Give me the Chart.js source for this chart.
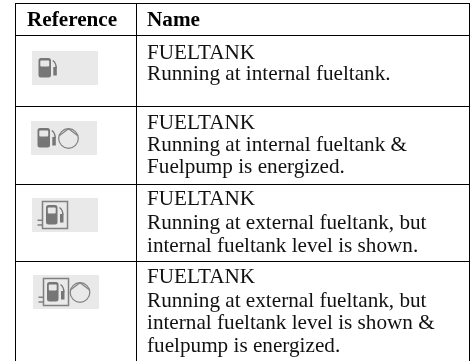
<!DOCTYPE html>
<html><head><meta charset="utf-8">
<style>html,body{margin:0;padding:0;background:#fff}#w{width:471px;height:361px;position:relative}</style>
<script src="https://cdn.jsdelivr.net/npm/chart.js@4"></script>
</head><body><div id="w"><canvas id="c" width="471" height="361"></canvas></div>
<script>
// table content
const headers = ["Reference", "Name"];
const rowNames = [
  ["FUELTANK", "Running at internal fueltank."],
  ["FUELTANK", "Running at internal fueltank &", "Fuelpump is energized."],
  ["FUELTANK", "Running at external fueltank, but", "internal fueltank level is shown."],
  ["FUELTANK", "Running at external fueltank, but", "internal fueltank level is shown &", "fuelpump is energized."]
];
const rowExternal = [false, false, true, true];
const rowPump = [false, true, false, true];

// layout, in the scale units (1 unit = 1 px)
const colRules = [15.5, 136.5, 469.5];
const rowRules = [3.5, 35.5, 106.5, 184.5, 261.5];
const headerBaseline = 26;
const baselines = [[58.5, 80], [128.5, 151, 173], [205, 228.5, 251.5], [283, 306.5, 329, 352]];
const iconOrigins = [[32, 51], [31, 121], [32, 198], [33, 275]];
const textX = [27, 147];

const ruleSets = [
  ...colRules.map(x => [{x, y: 3}, {x, y: 361}]),
  ...rowRules.map(y => [{x: 15, y}, {x: 470, y}])
];

const tablePlugin = {
  id: 'tablePlugin',
  beforeDatasetsDraw(chart) {
    const {ctx, scales: {x, y}} = chart;
    const G = '#767676';
    const px = v => x.getPixelForValue(v), py = v => y.getPixelForValue(v);
    const rr = (a, b, w, h, r) => { ctx.beginPath(); ctx.roundRect(a, b, w, h, r); };
    iconOrigins.forEach(([ox, oy], i) => {
      const X = px(ox), Y = py(oy);
      ctx.fillStyle = '#e9e9e9';
      ctx.fillRect(X, Y, 66, 34);
      const ext = rowExternal[i];
      const bx = ext ? 14 : 6.5, bw = ext ? 11.5 : 12.5;
      ctx.fillStyle = G;
      rr(X + bx, Y + 7, bw, 19.5, 2.5); ctx.fill();
      ctx.fillStyle = '#e8e8e8';
      rr(X + bx + 1.8, Y + 9.5, bw - 3.6, 6, 1); ctx.fill();
      // nozzle
      const nx = ext ? 28 : 21.3;
      ctx.fillStyle = G;
      ctx.fillRect(X + nx, Y + 16, 3.5, 8.5);
      ctx.strokeStyle = G; ctx.lineWidth = 1.4;
      ctx.beginPath(); ctx.moveTo(X + nx - 0.5, Y + 9.5); ctx.quadraticCurveTo(X + nx + 3, Y + 12, X + nx + 2.8, Y + 17); ctx.stroke();
      if (ext) {
        ctx.lineWidth = 1.5; ctx.strokeStyle = '#808080';
        ctx.strokeRect(X + 10.5, Y + 3.5, 25, 27);
        ctx.beginPath();
        ctx.moveTo(X + 5.5, Y + 22.3); ctx.lineTo(X + 10.5, Y + 22.3);
        ctx.moveTo(X + 5.5, Y + 27); ctx.lineTo(X + 10.5, Y + 27);
        ctx.stroke();
      }
      if (rowPump[i]) {
        const cx = X + (ext ? 47 : 37.5), cy = Y + 17.5;
        ctx.lineWidth = 1.2; ctx.strokeStyle = '#808080';
        ctx.beginPath(); ctx.arc(cx, cy, 9.8, 0, Math.PI * 2); ctx.stroke();
        ctx.beginPath(); ctx.moveTo(cx - 9, cy - 3); ctx.lineTo(cx, cy - 9.8); ctx.lineTo(cx + 9, cy - 3); ctx.stroke();
      }
    });
  },
  afterDatasetsDraw(chart) {
    const {ctx, scales: {x, y}} = chart;
    ctx.save();
    ctx.fillStyle = '#000';
    ctx.textBaseline = 'alphabetic';
    ctx.textAlign = 'left';
    ctx.font = 'bold 21.2px "Liberation Serif"';
    headers.forEach((h, i) => ctx.fillText(h, x.getPixelForValue(textX[i]), y.getPixelForValue(headerBaseline)));
    ctx.fillStyle = '#111';
    ctx.font = '21.2px "Liberation Serif"';
    rowNames.forEach((lines, r) => lines.forEach((t, l) =>
      ctx.fillText(t, x.getPixelForValue(textX[1]), y.getPixelForValue(baselines[r][l]))));
    ctx.restore();
  }
};

new Chart(document.getElementById('c'), {
  type: 'scatter',
  data: {
    datasets: ruleSets.map(data => ({
      data, showLine: true, pointRadius: 0, borderColor: '#000', borderWidth: 1, clip: false
    }))
  },
  options: {
    responsive: false, animation: false,
    layout: {padding: 0},
    plugins: {legend: {display: false}, tooltip: {enabled: false}},
    scales: {
      x: {type: 'linear', min: 0, max: 471, display: false},
      y: {type: 'linear', min: 0, max: 361, reverse: true, display: false}
    }
  },
  plugins: [tablePlugin]
});
</script></body></html>
